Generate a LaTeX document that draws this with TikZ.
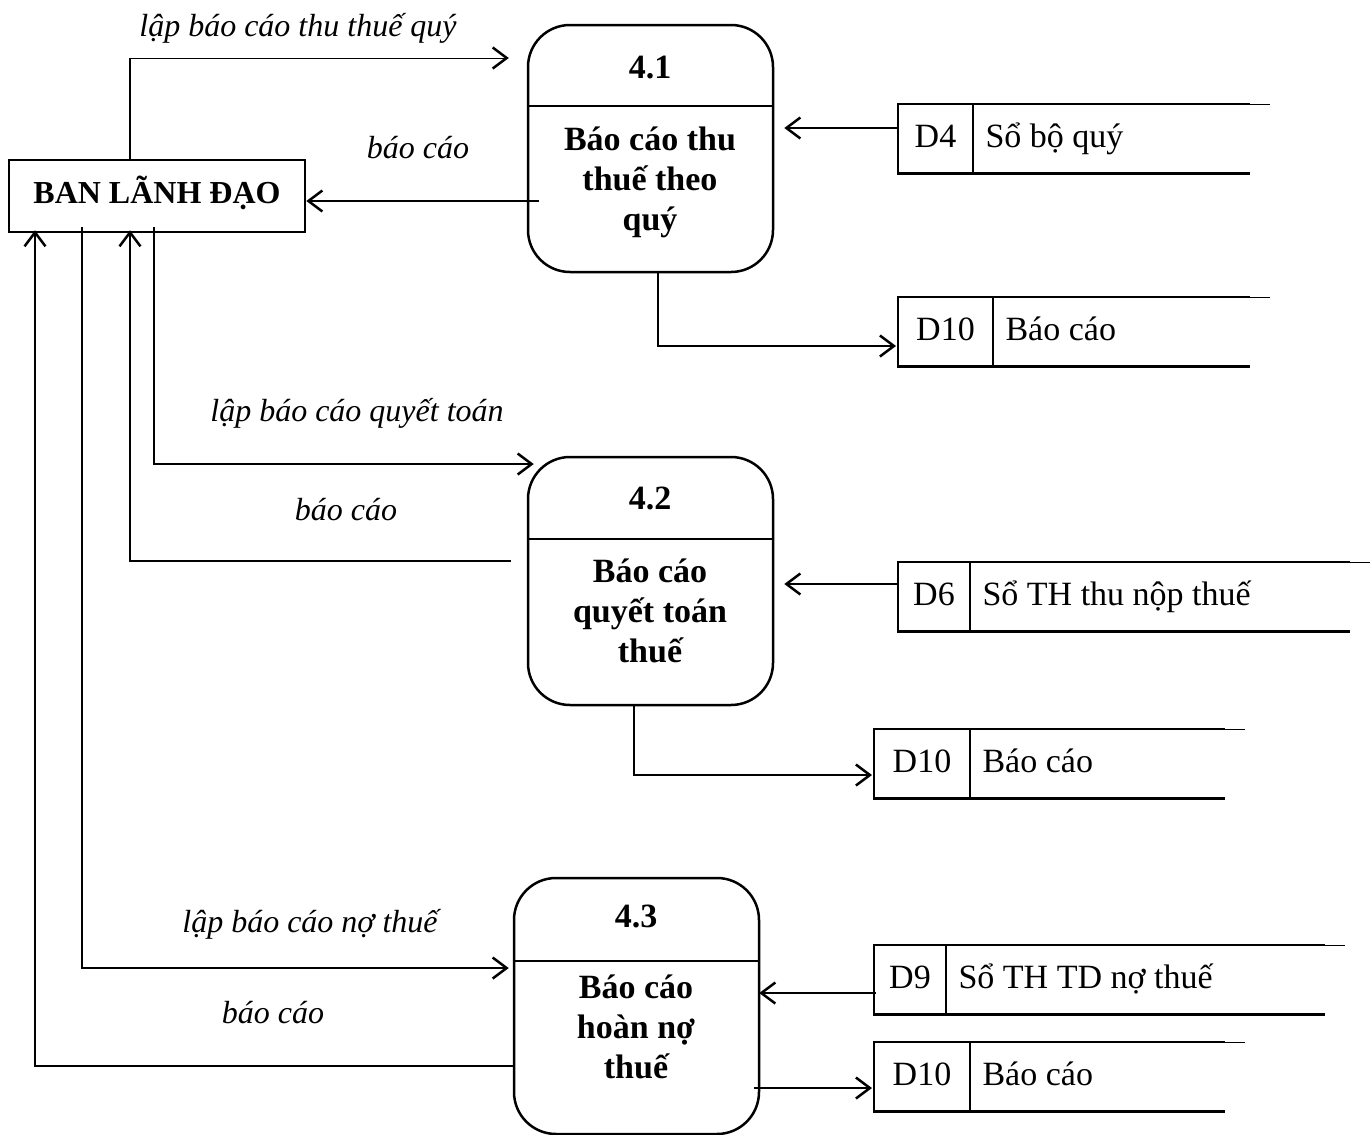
\documentclass[tikz,border=0pt]{standalone}
\usepackage{fontspec}
\setmainfont{Liberation Serif}
\usetikzlibrary{arrows.meta,calc}

% data store: name, left x, top y, width, id-cell width, id, label
\newcommand\dstore[7]{%
  \node[minimum width=#4pt,minimum height=69pt,inner sep=0pt,anchor=north west] (#1) at (#2,#3) {};
  \draw[line] (#1.north east) -- (#1.north west) -- (#1.south west) -- (#1.south east);
  \draw[line width=1pt] (#1.north east) -- ++(20,0);
  \draw[line] ($(#1.north west)+(#5,0)$) -- ($(#1.south west)+(#5,0)$);
  \node[stxt] (#1id) at ($(#1.west)+(#5/2,0)$) {#6};
  \node[stxt,anchor=west] (#1lbl) at ($(#1.west)+(#5+9,0)$) {#7};
}

\begin{document}
\begin{tikzpicture}[x=1pt,y=-1pt,
  line/.style={line width=2.5pt},
  flow/.style={line width=2.5pt,-{Straight Barb[length=14pt,width=21pt,line width=2.5pt]}},
  thinflow/.style={line width=1pt,-{Straight Barb[length=14pt,width=21pt,line width=2.5pt]}},
  entity/.style={draw,line width=2.5pt,minimum width=296pt,minimum height=72pt,inner sep=0pt,
    text height=22pt,text depth=8pt,font=\fontsize{32}{38}\selectfont\bfseries},
  proc/.style={draw,line width=2.5pt,rounded corners=42pt,minimum width=245pt,inner sep=0pt},
  pnum/.style={font=\fontsize{34}{40}\selectfont\bfseries},
  ptext/.style={font=\fontsize{34}{40}\selectfont\bfseries,align=center},
  lbl/.style={font=\fontsize{32}{38}\selectfont\itshape},
  stxt/.style={font=\fontsize{34}{40}\selectfont,text height=24pt,text depth=7pt},
]
\useasboundingbox (0,0) rectangle (1371,1135);

% external entity
\node[entity] (ban) at (157,196) {BAN LÃNH ĐẠO};

% processes
\node[proc,minimum height=247pt] (p41) at (650.5,148.5) {};
\draw[line] ($(p41.north west)+(0,82)$) -- ($(p41.north east)+(0,82)$);
\node[pnum] (n41) at (650,68) {4.1};
\node[ptext] (t41) at (650,182) {Báo cáo thu\\thuế theo\\quý};

\node[proc,minimum height=248pt] (p42) at (650.5,581) {};
\draw[line] ($(p42.north west)+(0,83)$) -- ($(p42.north east)+(0,83)$);
\node[pnum] (n42) at (650,498) {4.2};
\node[ptext] (t42) at (650,611) {Báo cáo\\quyết toán\\thuế};

\node[proc,minimum height=256pt] (p43) at (636.5,1006) {};
\draw[line] ($(p43.north west)+(0,84)$) -- ($(p43.north east)+(0,84)$);
\node[pnum] (n43) at (636,916) {4.3};
\node[ptext] (t43) at (636,1027) {Báo cáo\\hoàn nợ\\thuế};

% data stores
\dstore{d4}{898}{104}{352}{75}{D4}{Sổ bộ quý}
\dstore{d10a}{898}{297}{352}{95}{D10}{Báo cáo}
\dstore{d6}{898}{562}{452}{72}{D6}{Sổ TH thu nộp thuế}
\dstore{d10b}{874}{729}{351}{96}{D10}{Báo cáo}
\dstore{d9}{874}{945}{451}{72}{D9}{Sổ TH TD nợ thuế}
\dstore{d10c}{874}{1042}{351}{96}{D10}{Báo cáo}

% levels and bends of the flows
\coordinate (b1) at (130,58);
\coordinate (y2) at (0,201);
\coordinate (y3) at (0,128);
\coordinate (k4) at (658,346);
\coordinate (k5) at (154,464);
\coordinate (k6) at (130,561);
\coordinate (y7) at (0,584);
\coordinate (k8) at (634,775);
\coordinate (k9) at (82,968);
\coordinate (k10) at (35,1066);
\coordinate (y11) at (0,993);
\coordinate (y12) at (0,1088);

% flows of 4.1
\draw[line] (ban.north -| b1) -- (b1);
\draw[thinflow] (b1) -- ($(p41.west |- b1)+(-18,0)$);
\node[lbl] (l1) at (298,28) {lập báo cáo thu thuế quý};
\draw[flow] ($(p41.west |- y2)+(12,0)$) -- (ban.east |- y2);
\node[lbl] (l2) at (418,148) {báo cáo};
\draw[flow] (d4.west |- y3) -- ($(p41.east |- y3)+(10,0)$);
\draw[flow] (p41.south -| k4) |- ($(d10a.west |- k4)+(-2,0)$);

% flows of 4.2
\draw[flow] ($(ban.south -| k5)+(0,-6)$) |- ($(p42.west |- k5)+(7,0)$);
\node[lbl] (l3) at (357,413) {lập báo cáo quyết toán};
\draw[flow] ($(p42.west |- k6)+(-16,0)$) -| ($(ban.south -| k6)+(0,-3)$);
\node[lbl] (l4) at (346,510) {báo cáo};
\draw[flow] (d6.west |- y7) -- ($(p42.east |- y7)+(10,0)$);
\draw[flow] (p42.south -| k8) |- ($(d10b.west |- k8)+(-2,0)$);

% flows of 4.3
\draw[flow] ($(ban.south -| k9)+(0,-6)$) |- ($(p43.west |- k9)+(-4,0)$);
\node[lbl] (l5) at (310,924) {lập báo cáo nợ thuế};
\draw[flow] (p43.west |- k10) -| ($(ban.south -| k10)+(0,-3)$);
\node[lbl] (l6) at (273,1013) {báo cáo};
\draw[flow] ($(d9.west |- y11)+(2,0)$) -- ($(p43.east |- y11)+(-1,0)$);
\draw[flow] ($(p43.east |- y12)+(-6,0)$) -- ($(d10c.west |- y12)+(-2,0)$);
\end{tikzpicture}
\end{document}
